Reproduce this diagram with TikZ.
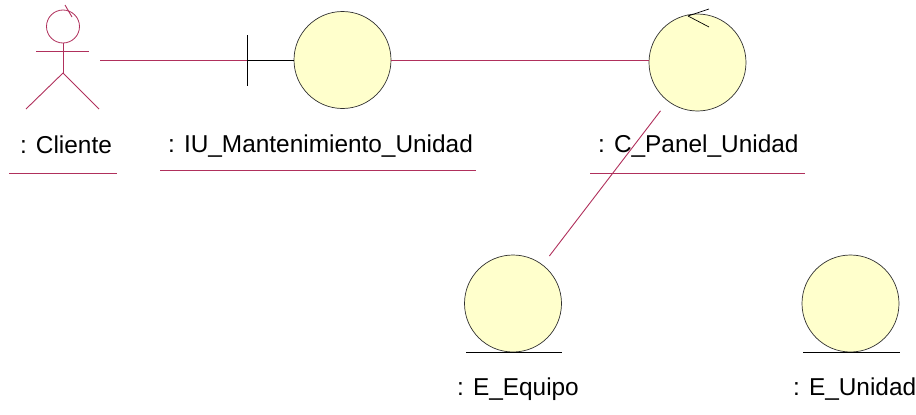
\documentclass[tikz,border=0pt]{standalone}
\usepackage{fontspec}
\setmainfont{Liberation Sans}
\definecolor{rose}{HTML}{B0305C}
\definecolor{objfill}{HTML}{FFFFCC}
\definecolor{objline}{HTML}{303030}
\begin{document}
\begin{tikzpicture}[x=1pt,y=-1pt,
  obj/.style={circle, draw=objline, fill=objfill, line width=0.7pt, inner sep=0pt, minimum size=97pt},
  link/.style={draw=rose, line width=0.9pt},
  blk/.style={draw=black, line width=0.9pt},
  lbl/.style={anchor=base west, inner sep=0pt, font=\fontsize{24.4}{27}\selectfont},
  uline/.style={draw=rose, line width=0.9pt}]
\useasboundingbox (0,0) rectangle (916,415);
% actor
\node[circle, draw=rose, line width=0.8pt, inner sep=0pt, minimum size=33pt] (head) at (63,26.5) {};
\draw[link] (65,5) -- (72,17);
\draw[link] (36,51) -- (89,51);
\draw[link] (head.south) -- (63,73) coordinate (hip);
\draw[link] (hip) -- (26,109);
\draw[link] (hip) -- (99,109);
\node[lbl] (clabel) at (20,153) {:\hspace{9pt}Cliente};
\draw[uline] (9,173) -- (117,173);
\coordinate (actorport) at (100,60);
% boundary
\node[obj] (iu) at (342.5,60) {};
\coordinate (tick) at (247,60);
\draw[blk] (247,35) -- (247,86);
\draw[link] (actorport) -- (tick);
\draw[blk] (tick) -- (iu.west);
\node[lbl] (iulabel) at (168,152) {: IU\_Mantenimiento\_Unidad};
\draw[uline] (160,170) -- (476,170);
% control
\node[obj] (ctrl) at (697.5,62.5) {};
\draw[blk, line width=0.7pt] (688,16) -- (709,9);
\draw[blk, line width=0.7pt] (688,16) -- (709,27);
\draw[link] (iu.east) -- (iu.east -| ctrl.west);
\node[lbl] (ctrllabel) at (598,152) {: C\_Panel\_Unidad};
\draw[uline] (590,173) -- (805,173);
% entities
\node[obj] (equipo) at (513,303.5) {};
\draw[blk, line width=0.7pt] (466,352) -- (562,352);
\node[lbl] (eqlabel) at (457,395) {: E\_Equipo};
\node[obj] (unidad) at (850.5,303.5) {};
\draw[blk, line width=0.7pt] (803,352) -- (900,352);
\node[lbl] (unlabel) at (793,395) {: E\_Unidad};
% control -- equipo
\draw[link, shorten <=12pt, shorten >=11pt] (ctrl) -- (equipo);
\end{tikzpicture}
\end{document}
